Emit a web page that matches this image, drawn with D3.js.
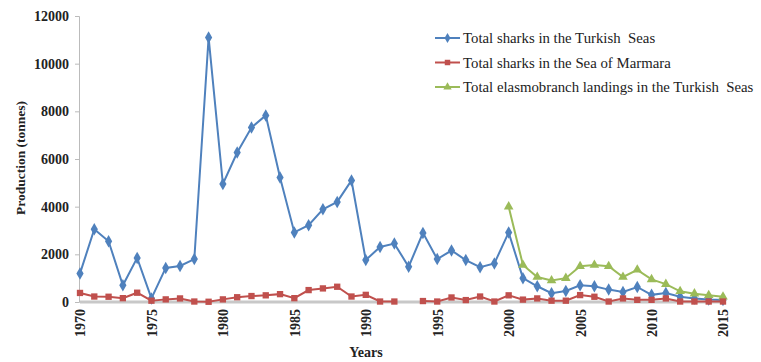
<!DOCTYPE html>
<html><head><meta charset="utf-8">
<script src="https://cdn.jsdelivr.net/npm/d3@7"></script>
<style>body{margin:0;background:#fff}svg{display:block}text{font-family:"Liberation Serif","Times New Roman",serif}</style>
</head><body>
<svg id="c" width="761" height="362"></svg>
<script>
const years = d3.range(1970, 2016);
const turkishSeas = [1200,3050,2550,700,1850,150,1430,1510,1800,11100,4950,6270,7320,7830,5220,2920,3220,3890,4200,5100,1760,2310,2450,1480,2900,1800,2160,1760,1460,1620,2920,1000,660,370,460,700,660,520,420,630,300,380,220,150,100,80];
const marmara = [380,230,220,160,390,55,110,150,20,10,110,200,250,280,330,160,500,570,640,230,300,20,20,null,40,20,190,80,230,20,280,100,150,55,55,290,220,20,150,90,90,150,20,20,20,20];
const elasmoYears = d3.range(2000, 2016);
const elasmo = [4000,1550,1050,900,1000,1500,1550,1500,1050,1350,950,750,450,350,280,220];
const yTicks = [0,2000,4000,6000,8000,10000,12000];
const xTicks = [1970,1975,1980,1985,1990,1995,2000,2005,2010,2015];
const seriesNames = ["Total sharks in the Turkish  Seas","Total sharks in the Sea of Marmara","Total elasmobranch landings in the Turkish  Seas"];
const colors = ["#4F81BD","#C0504D","#9BBB59"];

const svg = d3.select("#c");
const x = d3.scaleLinear().domain([1970,2015]).range([80,723]);
const y = d3.scaleLinear().domain([0,12000]).range([302,16]);

// x baseline (gray)
svg.append("line").attr("x1",x(1970)).attr("x2",x(2015)).attr("y1",y(0)).attr("y2",y(0))
  .attr("stroke","#c8c8c8").attr("stroke-width",3);
// y axis
const yAxis = d3.axisLeft(y).tickValues(yTicks).tickSize(4).tickPadding(6).tickFormat(d3.format("d"));
const gy = svg.append("g").attr("transform","translate(79,0)").call(yAxis);
gy.select(".domain").attr("stroke","#bbb");
gy.selectAll(".tick line").attr("stroke","#bbb");
gy.selectAll("text").attr("font-size",14).attr("font-weight","bold").attr("fill","#222")
  .style("font-family","'Liberation Serif',serif");

// x axis labels
const xAxis = d3.axisBottom(x).tickValues(xTicks).tickSize(0).tickFormat(d3.format("d"));
const gx = svg.append("g").attr("transform","translate(0,302)").call(xAxis);
gx.select(".domain").remove();
gx.selectAll("text").attr("font-size",14).attr("font-weight","bold").attr("fill","#222")
  .style("font-family","'Liberation Serif',serif")
  .attr("transform","rotate(-90)").attr("text-anchor","end").attr("x",-7).attr("y",0).attr("dy","0.35em");

// axis titles
svg.append("text").attr("x",366).attr("y",357).attr("text-anchor","middle")
  .attr("font-size",14).attr("font-weight","bold").attr("fill","#222").text("Years");
svg.append("text").attr("transform","translate(25,158) rotate(-90)").attr("text-anchor","middle")
  .attr("font-size",13.5).attr("font-weight","bold").attr("fill","#222").text("Production (tonnes)");

const line = d3.line().defined(d => d[1] != null).x(d => x(d[0])).y(d => y(d[1]));
const data = [
  years.map((yr,i)=>[yr,turkishSeas[i]]),
  years.map((yr,i)=>[yr,marmara[i]]),
  elasmoYears.map((yr,i)=>[yr,elasmo[i]])
];
const symbols = [d3.symbolDiamond, d3.symbolSquare, d3.symbolTriangle];
const sizes = [45, 40, 40];
[0,2,1].forEach(k => {
  svg.append("path").datum(data[k]).attr("d",line).attr("fill","none")
    .attr("stroke",colors[k]).attr("stroke-width",2);
  svg.append("g").selectAll("path").data(data[k].filter(d=>d[1]!=null)).join("path")
    .attr("transform",d=>`translate(${x(d[0])},${y(d[1])})`)
    .attr("d",d3.symbol().type(symbols[k]).size(sizes[k]))
    .attr("fill",colors[k]);
});

// legend
const leg = svg.append("g");
seriesNames.forEach((n,i)=>{
  const ly = 38 + i*24.5;
  leg.append("line").attr("x1",435).attr("x2",460).attr("y1",ly).attr("y2",ly)
    .attr("stroke",colors[i]).attr("stroke-width",2);
  leg.append("path").attr("transform",`translate(447.5,${ly})`)
    .attr("d",d3.symbol().type(symbols[i]).size(30)).attr("fill",colors[i]);
  leg.append("text").attr("x",463).attr("y",ly).attr("dy","0.35em")
    .attr("font-size",14.8).attr("fill","#222").style("white-space","pre").text(n);
});
</script>
</body></html>
